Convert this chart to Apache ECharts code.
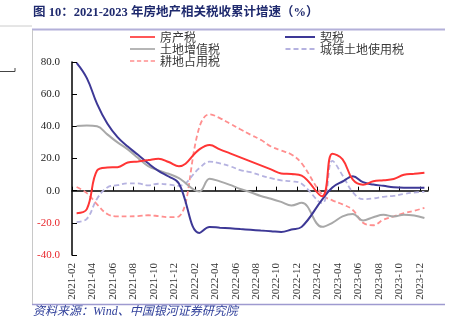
<!DOCTYPE html>
<html>
<head>
<meta charset="utf-8">
<script src="https://cdn.jsdelivr.net/npm/echarts@6/dist/echarts.min.js"></script>
<style>html,body{margin:0;padding:0;background:#fff}#c{width:454px;height:322px}</style>
</head>
<body>
<div id="c"></div>
<script>
const months = ['2021-02','2021-03','2021-04','2021-05','2021-06','2021-07','2021-08','2021-09','2021-10','2021-11','2021-12',
  '2022-01','2022-02','2022-03','2022-04','2022-05','2022-06','2022-07','2022-08','2022-09','2022-10','2022-11','2022-12',
  '2023-01','2023-02','2023-03','2023-04','2023-05','2023-06','2023-07','2023-08','2023-09','2023-10','2023-11','2023-12'];
const yTicks = [-40, -20, 0, 20, 40, 60, 80];
// 房产税
const fangchan = [-14, -11.5, 12.5, 14.4, 14.6, 17.5, 18.2, 19.0, 19.9, 17.8, 15.2, null,
  25.7, 28.4, 25.7, 23.2, 20.7, 18.2, 15.7, 13.2, 10.7, 10.3, 9.3, null,
  -3.5, 23, 19.5, 6.8, 3.7, 5.8, 6.5, 7.3, 9.9, 10.5, 11.2];
// 契税
const qishui = [79.5, 70, 54, 41.7, 33.3, 27.4, 22.3, 17.0, 12.3, 8.8, 4.5, null,
  -26.3, -22.6, -23, -23.4, -23.9, -24.3, -24.8, -25.2, -25.7, -24.2, -22.5, null,
  -5.5, 2.0, 5.7, 8.9, 5.3, 3.8, 3.0, 2.1, 1.8, 1.8, 1.8];
// 土地增值税
const tudizengzhi = [40.2, 40.5, 40.0, 35, 30, 25.7, 20.3, 15.3, 12.6, 10.5, 7.8, null,
  -0.5, 7.4, 5.8, 3.6, 1.0, -1, -3.3, -5, -7, -9.2, -7.5, null,
  -22.5, -20, -16, -14.5, -18.5, -16.5, -15, -16, -15, -15.5, -17];
// 城镇土地使用税
const chengzhen = [-19.5, -17.5, -5, 2, 3.4, 4.5, 4.5, 3.3, 4.3, 3.8, 3.0, null,
  14, 18.0, 17, 15.2, 12.8, 11.5, 9.5, 7.8, 6.4, 5.8, 4.3, null,
  -7.8, 18.5, 9.5, -1, -5.3, -4.8, -3.8, -3.2, -2, -1.2, -0.7];
// 耕地占用税
const gengdi = [2.3, -1.5, -8.5, -14.5, -16, -16, -15.8, -15.3, -15.8, -16.5, -16, null,
  39.5, 47.5, 45.1, 41.7, 38.2, 34.8, 31.6, 27.5, 25, 22.5, 17, null,
  -2.5, -6, -8.5, -12, -20, -21.5, -18, -16, -14, -12.5, -10.7];

const MID = 0.45; // data dated mid-month
const toData = arr => arr.map((v, i) => v == null ? null : [i + MID, v]).filter(d => d);

const chart = echarts.init(document.getElementById('c'), null, {renderer: 'canvas'});
const serif = '"Liberation Serif","Times New Roman",serif';
const cjk = '"Noto Sans CJK SC","Noto Sans",sans-serif';

function mk(name, arr, color, type, width, z) {
  return {
    name, type: 'line', data: toData(arr), xAxisIndex: 0, yAxisIndex: 0,
    symbol: 'none', smooth: 0.4, connectNulls: true, z: z,
    lineStyle: {color, width, type},
    itemStyle: {color}
  };
}

const SOLID = 'path://M0,0H30V2H0Z';
const DASH = 'path://M0,0H5V2H0Z M8,0H13V2H8Z M16,0H21V2H16Z M24,0H29V2H24Z';
const legendText = {fontSize: 12, lineHeight: 12, color: '#3a3a3a', fontFamily: cjk};

chart.setOption({
  animation: false,
  backgroundColor: '#fff',
  grid: {left: 72, right: 26, top: 62, bottom: 67, containLabel: false},
  legend: [
    {data: [{name: '房产税', icon: SOLID}, {name: '土地增值税', icon: SOLID}, {name: '耕地占用税', icon: DASH}],
     orient: 'vertical', left: 130, top: 31,
     itemWidth: 25, itemHeight: 2, itemGap: 0, padding: 0, textStyle: legendText},
    {data: [{name: '契税', icon: SOLID}, {name: '城镇土地使用税', icon: DASH}],
     orient: 'vertical', left: 285, top: 31,
     itemWidth: 30, itemHeight: 2, itemGap: 0, padding: 0, textStyle: legendText}
  ],
  xAxis: [
    {type: 'value', min: 0, max: 34.8, interval: 2, position: 'bottom',
     axisLine: {show: false, onZero: false}, axisTick: {show: false}, splitLine: {show: false},
     axisLabel: {rotate: 90, margin: 8, fontFamily: serif, fontSize: 11, color: '#333',
       showMaxLabel: false,
       formatter: v => Number.isInteger(v) && months[v] ? months[v] : ''}},
    {type: 'value', min: 0, max: 34.8, interval: 2, position: 'bottom',
     axisLine: {show: true, onZero: true, lineStyle: {color: '#000', width: 1.5}},
     axisTick: {show: true, inside: true, length: 4, lineStyle: {color: '#000', width: 1}},
     axisLabel: {show: false}, splitLine: {show: false}}
  ],
  yAxis: {
    type: 'value', min: yTicks[0], max: yTicks[yTicks.length - 1], interval: 20,
    axisLine: {show: true, lineStyle: {color: '#000', width: 1.5}},
    axisTick: {show: true, inside: true, length: 5, lineStyle: {color: '#000', width: 1}},
    splitLine: {show: false},
    axisLabel: {margin: 12, fontFamily: serif, fontSize: 11,
      formatter: v => Number(v).toFixed(1),
      color: v => Number(v) < 0 ? '#e8262b' : '#222'}
  },
  series: [
    mk('耕地占用税', gengdi, '#ff8f8f', [5, 3], 1.8, 2),
    mk('城镇土地使用税', chengzhen, '#b5b2e0', [5, 3], 1.8, 2),
    mk('土地增值税', tudizengzhi, '#a8a8a8', 'solid', 2, 3),
    mk('契税', qishui, '#3d3896', 'solid', 2, 4),
    mk('房产税', fangchan, '#ff3535', 'solid', 2, 5)
  ],
  graphic: [
    {type: 'text', left: 33, top: 7, style: {text: '图 10：2021-2023 年房地产相关税收累计增速（%）',
      fontSize: 12.5, fontWeight: 'bold', fontFamily: '"Liberation Serif","Noto Sans CJK SC",serif', fill: '#1f2a6e'}},
    {type: 'line', shape: {x1: 0, y1: 26, x2: 32, y2: 26}, style: {stroke: '#cccccc', lineWidth: 1}},
    {type: 'line', shape: {x1: 32, y1: 29.5, x2: 445, y2: 29.5}, style: {stroke: '#b3b0d9', lineWidth: 2}},
    {type: 'line', shape: {x1: 32.5, y1: 30, x2: 32.5, y2: 304}, style: {stroke: '#c8c8c8', lineWidth: 1}},
    {type: 'line', shape: {x1: 32, y1: 304.5, x2: 445, y2: 304.5}, style: {stroke: '#9e9ad0', lineWidth: 1.5}},
    {type: 'line', shape: {x1: 0, y1: 71.5, x2: 15, y2: 71.5}, style: {stroke: '#444', lineWidth: 1}},
    {type: 'line', shape: {x1: 15, y1: 68, x2: 15, y2: 71.5}, style: {stroke: '#444', lineWidth: 1}},
    {type: 'text', left: 33, top: 306, style: {text: '资料来源：Wind、中国银河证券研究院',
      fontSize: 12, fontStyle: 'italic', fontFamily: '"Liberation Serif","Noto Sans CJK SC",serif', fill: '#2f3f9a'}}
  ]
});
</script>
</body>
</html>
